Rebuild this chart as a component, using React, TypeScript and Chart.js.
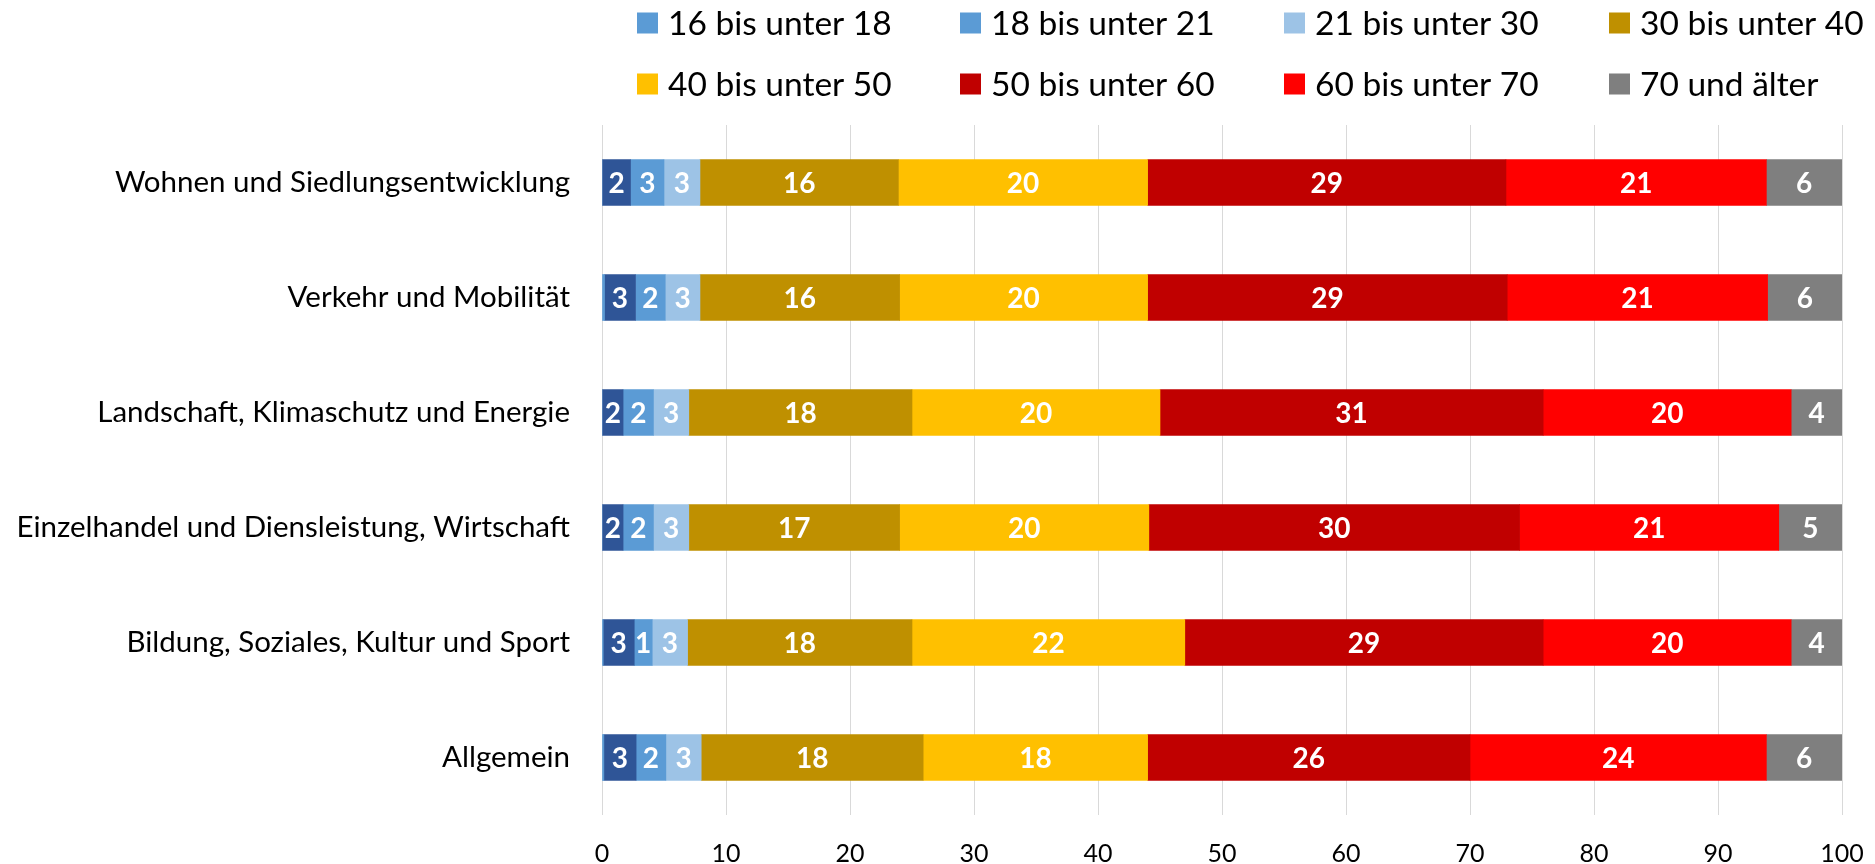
import React, { useEffect, useRef } from "react";
import { Chart, registerables } from "chart.js";

Chart.register(...registerables);

const categories = [
  "Wohnen und Siedlungsentwicklung",
  "Verkehr und Mobilität",
  "Landschaft, Klimaschutz und Energie",
  "Einzelhandel und Diensleistung, Wirtschaft",
  "Bildung, Soziales, Kultur und Sport",
  "Allgemein",
];

const s16to18 = [0, 0.2, 0, 0, 0.1, 0.15];
const sUnnamed = [2.3, 2.5, 1.7, 1.7, 2.5, 2.6];
const s18to21 = [2.7, 2.4, 2.45, 2.45, 1.45, 2.4];
const s21to30 = [2.9, 2.8, 2.85, 2.85, 2.85, 2.85];
const s30to40 = [16.0, 16.1, 18.0, 17.0, 18.1, 17.9];
const s40to50 = [20.1, 20.0, 20.0, 20.1, 22.0, 18.1];
const s50to60 = [28.9, 29.0, 30.9, 29.9, 28.9, 26.0];
const s60to70 = [21.0, 21.0, 20.0, 20.9, 20.0, 23.9];
const s70plus = [6.1, 6.0, 4.1, 5.1, 4.1, 6.1];

const xTicks = [0, 10, 20, 30, 40, 50, 60, 70, 80, 90, 100];

const FONT = "Lato, 'Open Sans', sans-serif";

const legendPlugin = {
  id: "gridLegend",
  afterDraw(chart: any) {
    const ctx = chart.ctx;
    const cols = [637, 960, 1284, 1609];
    const rows = [23, 84];
    const items = chart.data.datasets.filter((d: any) => d.label);
    ctx.save();
    ctx.font = `33.5px ${FONT}`;
    ctx.textBaseline = "middle";
    ctx.textAlign = "left";
    items.forEach((ds: any, i: number) => {
      const x = cols[i % 4];
      const y = rows[Math.floor(i / 4)];
      ctx.fillStyle = ds.backgroundColor;
      ctx.fillRect(x, y - 10.5, 21, 21);
      ctx.fillStyle = "#000000";
      ctx.fillText(ds.label, x + 31, y + 1);
    });
    ctx.restore();
  },
};

const valueLabelPlugin = {
  id: "valueLabels",
  afterDatasetsDraw(chart: any) {
    const ctx = chart.ctx;
    ctx.save();
    ctx.font = `bold 28px ${FONT}`;
    ctx.fillStyle = "#ffffff";
    ctx.textAlign = "center";
    ctx.textBaseline = "middle";
    chart.data.datasets.forEach((ds: any, di: number) => {
      if (ds.noLabel) return;
      const meta = chart.getDatasetMeta(di);
      meta.data.forEach((el: any, i: number) => {
        const v = ds.data[i];
        const r = Math.round(v);
        if (!r) return;
        const p = el.getProps(["x", "y", "base"], true);
        ctx.fillText(String(r), (p.x + p.base) / 2, p.y + 1);
      });
    });
    ctx.restore();
  },
};

export default function App() {
  const ref = useRef<HTMLCanvasElement | null>(null);

  useEffect(() => {
    if (!ref.current) return;
    const mk = (label: string, data: number[], color: string, noLabel = false) => ({
      label,
      data,
      backgroundColor: color,
      borderWidth: 0,
      barThickness: 46,
      noLabel,
    });
    const chart = new Chart(ref.current, {
      type: "bar",
      data: {
        labels: categories,
        datasets: [
          mk("16 bis unter 18", s16to18, "#5B9BD5", true),
          mk("", sUnnamed, "#2F5597"),
          mk("18 bis unter 21", s18to21, "#5B9BD5"),
          mk("21 bis unter 30", s21to30, "#9DC3E6"),
          mk("30 bis unter 40", s30to40, "#BF9000"),
          mk("40 bis unter 50", s40to50, "#FFC000"),
          mk("50 bis unter 60", s50to60, "#C00000"),
          mk("60 bis unter 70", s60to70, "#FF0000"),
          mk("70 und älter", s70plus, "#7F7F7F"),
        ] as any,
      },
      options: {
        indexAxis: "y",
        animation: false,
        responsive: false,
        devicePixelRatio: 1,
        layout: { padding: { top: 125, right: 33, left: 0, bottom: 0 } },
        plugins: {
          legend: { display: false },
          tooltip: { enabled: false },
        },
        scales: {
          x: {
            stacked: true,
            min: 0,
            max: 100,
            afterBuildTicks: (scale: any) => {
              scale.ticks = xTicks.map((v) => ({ value: v }));
            },
            afterFit: (scale: any) => {
              scale.height = 49;
              scale.paddingLeft = 0;
              scale.paddingRight = 0;
            },
            grid: { color: "#D9D9D9", lineWidth: 1, drawTicks: false },
            border: { display: false },
            ticks: {
              color: "#000000",
              font: { family: FONT, size: 25 },
              padding: 24,
              maxRotation: 0,
            },
          },
          y: {
            stacked: true,
            afterFit: (scale: any) => {
              scale.width = 602;
              scale.paddingTop = 0;
              scale.paddingBottom = 0;
            },
            grid: { display: false, drawTicks: false },
            border: { display: false },
            ticks: {
              color: "#000000",
              font: { family: FONT, size: 29.5 },
              padding: 32,
            },
          },
        },
      } as any,
      plugins: [valueLabelPlugin, legendPlugin],
    });
    return () => chart.destroy();
  }, []);

  return (
    <div style={{ position: "fixed", left: 0, top: 0, width: 1875, height: 864, background: "#ffffff" }}>
      <canvas ref={ref} width={1875} height={864} style={{ width: 1875, height: 864, display: "block" }} />
    </div>
  );
}
